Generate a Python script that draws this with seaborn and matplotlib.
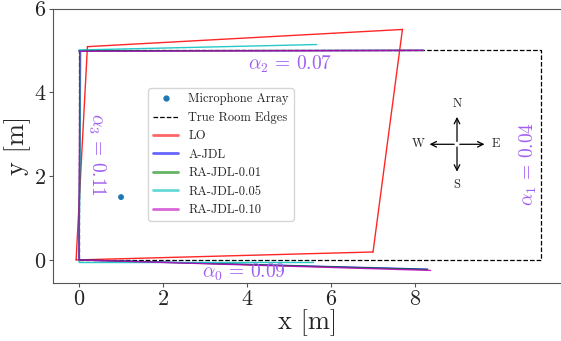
import numpy as np
import pandas as pd
import matplotlib
matplotlib.use('Agg')
import matplotlib.pyplot as plt
from matplotlib.lines import Line2D
import seaborn as sns

# room and microphone
room_x = [0, 11, 11, 0, 0]
room_y = [0, 0, 5, 5, 0]
mic_x = [1.0]
mic_y = [1.5]

# estimated walls per method: each wall is (x0, y0, x1, y1)
methods = ['LO', 'A-JDL', 'RA-JDL-0.01', 'RA-JDL-0.05', 'RA-JDL-0.10']
colors = ['red', 'blue', 'green', 'c', 'm']
walls_lo = [(-0.07, 0.0, 7.0, 0.19), (7.0, 0.19, 7.70, 5.50),
            (7.70, 5.50, 0.20, 5.09), (0.20, 5.09, -0.07, 0.0)]
walls_ajdl = [(0.0, 0.0, 8.3, -0.22), (0.0, 4.99, 8.2, 5.0),
              (0.0, 0.0, 0.03, 4.99)]
walls_ra01 = [(0.0, 0.0, 8.3, -0.23), (0.0, 4.99, 8.2, 5.0),
              (0.0, 0.0, 0.03, 4.99)]
walls_ra05 = [(0.0, -0.05, 5.57, -0.05), (0.0, 5.01, 5.66, 5.14),
              (0.0, -0.05, 0.04, 5.01)]
walls_ra10 = [(0.0, 0.0, 8.37, -0.25), (0.0, 4.98, 8.2, 5.0),
              (0.0, 0.0, 0.02, 4.98)]
all_walls = [walls_lo, walls_ajdl, walls_ra01, walls_ra05, walls_ra10]

# wall angle errors
alpha_labels = [r'$\alpha_0\,=\,0.09$', r'$\alpha_1\,=\,0.04$',
                r'$\alpha_2\,=\,0.07$', r'$\alpha_3\,=\,0.11$']
alpha_pos = [(3.93, -0.29), (10.69, 2.28), (5.02, 4.67), (0.43, 2.52)]
alpha_rot = [0, 90, 0, 270]

rows = []
for m, ws in zip(methods, all_walls):
    for i, (x0, y0, x1, y1) in enumerate(ws):
        rows.append(dict(method=m, wall=i, order=0, x=x0, y=y0))
        rows.append(dict(method=m, wall=i, order=1, x=x1, y=y1))
df = pd.DataFrame(rows)

sns.set_style('ticks')
plt.rcParams['font.family'] = 'serif'
plt.rcParams['font.serif'] = ['cmr10']
plt.rcParams['mathtext.fontset'] = 'cm'
plt.rcParams['axes.formatter.use_mathtext'] = True

fig = plt.figure(figsize=(5.61, 3.41), dpi=100)
ax = fig.add_axes([53 / 561, 58 / 341, 509 / 561, 274.5 / 341])

sns.scatterplot(x=mic_x, y=mic_y, ax=ax, s=18, color='#1f77b4', edgecolor='none', zorder=5)
ax.plot(room_x, room_y, 'k--', lw=0.9, zorder=1)
for m, c in zip(methods, colors):
    sub = df[df['method'] == m]
    sns.lineplot(data=sub, x='x', y='y', units='wall', estimator=None, sort=False,
                 color=c, lw=1.0, alpha=0.85, ax=ax, legend=False)

for txt, (px, py), r in zip(alpha_labels, alpha_pos, alpha_rot):
    ax.text(px, py, txt, color='#a05ff0', fontsize=14, rotation=r,
            ha='center', va='center')

# compass
cx, cy, L = 9.0, 2.76, 0.72
for (dx, dy, lab) in [(0, 1, 'N'), (0, -1, 'S'), (-1, 0, 'W'), (1, 0, 'E')]:
    ax.annotate('', xy=(cx + dx * L, cy + dy * L), xytext=(cx, cy),
                arrowprops=dict(arrowstyle='->', color='k', lw=0.9))
    ax.text(cx + dx * (L + 0.2) * (1 if dx else 0), cy + dy * (L + 0.25),
            lab, fontsize=9, ha='center', va='center')

handles = [Line2D([], [], marker='o', ls='none', color='#1f77b4', ms=3.5),
           Line2D([], [], ls='--', color='k', lw=0.9)]
handles += [Line2D([], [], color=c, lw=2, alpha=0.6) for c in colors]
labels = ['Microphone Array', 'True Room Edges'] + methods
ax.legend(handles, labels, loc='upper left', bbox_to_anchor=(0.187, 0.71),
          borderaxespad=0, fontsize=9, framealpha=0.8)

ax.set_xlim(-0.62, 11.5)
ax.set_ylim(-0.55, 6.0)
ax.set_xticks([0, 2, 4, 6, 8])
ax.set_yticks([0, 2, 4, 6])
ax.tick_params(labelsize=16, color='#555555', length=3, pad=2)
for s in ax.spines.values():
    s.set_color('#555555')
ax.set_xlabel('x [m]', fontsize=19, labelpad=0)
ax.set_ylabel('y [m]', fontsize=19, labelpad=2)

fig.savefig('out.png', dpi=100)
